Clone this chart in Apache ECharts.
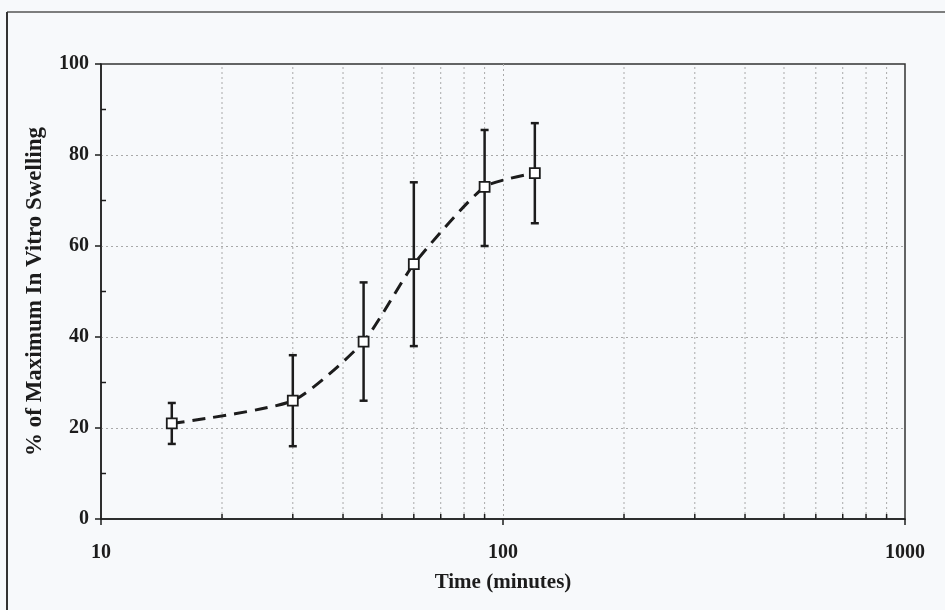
<!DOCTYPE html>
<html>
<head>
<meta charset="utf-8">
<script src="https://cdn.jsdelivr.net/npm/echarts@6/dist/echarts.min.js"></script>
<style>
  html, body { margin: 0; padding: 0; background: #f7f9fb; }
  #chart { width: 945px; height: 610px; }
</style>
</head>
<body>
<div id="chart"></div>
<script>
// Swelling time course: mean with error range at each sampling time
const timeMinutes = [15, 30, 45, 60, 90, 120];
const swellingMean = [21, 26, 39, 56, 73, 76];
const swellingLow = [16.5, 16, 26, 38, 60, 65];
const swellingHigh = [25.5, 36, 52, 74, 85.5, 87];

// Minor positions on each axis
const xMinorTicks = [20, 30, 40, 50, 60, 70, 80, 90, 200, 300, 400, 500, 600, 700, 800, 900];
const yMinorTicks = [10, 30, 50, 70, 90];

const FONT = "'Liberation Serif', 'DejaVu Serif', serif";
const INK = '#1c1c1c';
const GRIDC = '#a9a9a9';

const chart = echarts.init(document.getElementById('chart'), null, { renderer: 'canvas' });

const meanData = timeMinutes.map((t, i) => [t, swellingMean[i]]);
const errData = timeMinutes.map((t, i) => [t, swellingLow[i], swellingHigh[i]]);

chart.setOption({
  backgroundColor: '#f7f9fb',
  animation: false,
  graphic: [
    { type: 'line', shape: { x1: 7, y1: 12, x2: 945, y2: 12 }, style: { stroke: '#555', lineWidth: 1.5 } },
    { type: 'line', shape: { x1: 7, y1: 12, x2: 7, y2: 610 }, style: { stroke: '#333', lineWidth: 2 } }
  ],
  grid: {
    left: 101, right: 40, top: 64, bottom: 91,
    show: true, borderColor: '#333', borderWidth: 1.5, backgroundColor: 'transparent'
  },
  xAxis: {
    type: 'log', logBase: 10, min: 10, max: 1000,
    name: 'Time (minutes)', nameLocation: 'middle', nameGap: 53,
    nameTextStyle: { fontFamily: FONT, fontWeight: 'bold', fontSize: 21, color: INK },
    axisLine: { lineStyle: { color: INK, width: 1.5 } },
    axisTick: { length: 6, lineStyle: { color: INK, width: 1.5 } },
    axisLabel: {
      margin: 24, fontFamily: FONT, fontWeight: 'bold', fontSize: 20, color: INK,
      formatter: v => String(Math.round(v))
    },
    splitLine: { show: true, showMinLine: false, showMaxLine: false, lineStyle: { color: GRIDC, type: [2, 3], width: 1 } }
  },
  yAxis: {
    type: 'value', min: 0, max: 100, interval: 20,
    name: '% of Maximum In Vitro Swelling', nameLocation: 'middle', nameGap: 54,
    nameTextStyle: { fontFamily: FONT, fontWeight: 'bold', fontSize: 23, color: INK },
    axisLine: { show: true, lineStyle: { color: INK, width: 1.5 } },
    axisTick: { show: true, length: 6, lineStyle: { color: INK, width: 1.5 } },
    axisLabel: { margin: 12, fontFamily: FONT, fontWeight: 'bold', fontSize: 20, color: INK },
    splitLine: { show: true, showMinLine: false, showMaxLine: false, lineStyle: { color: GRIDC, type: [2, 3], width: 1 } }
  },
  series: [
    {
      // dotted minor grid lines with short inward ticks on the time axis
      type: 'custom', silent: true, z: 1,
      data: xMinorTicks.map(v => [v, 0]),
      renderItem: function (params, api) {
        const b = api.coord([api.value(0), 0]);
        const t = api.coord([api.value(0), 100]);
        return {
          type: 'group',
          children: [
            { type: 'line', shape: { x1: b[0], y1: b[1], x2: t[0], y2: t[1] },
              style: { stroke: GRIDC, lineWidth: 1, lineDash: [2, 3] } },
            { type: 'line', shape: { x1: b[0], y1: b[1], x2: b[0], y2: b[1] - 5 },
              style: { stroke: INK, lineWidth: 1.5 } }
          ]
        };
      }
    },
    {
      // minor inward ticks on the swelling axis
      type: 'custom', silent: true, z: 1,
      data: yMinorTicks.map(v => [10, v]),
      renderItem: function (params, api) {
        const p = api.coord([10, api.value(1)]);
        return { type: 'line', shape: { x1: p[0], y1: p[1], x2: p[0] + 5, y2: p[1] },
          style: { stroke: INK, lineWidth: 1.5 } };
      }
    },
    {
      // error bars with caps
      type: 'custom', silent: true, z: 3,
      data: errData,
      renderItem: function (params, api) {
        const lo = api.coord([api.value(0), api.value(1)]);
        const hi = api.coord([api.value(0), api.value(2)]);
        const w = 4;
        const st = { stroke: INK, lineWidth: 2.5 };
        return {
          type: 'group',
          children: [
            { type: 'line', shape: { x1: lo[0], y1: lo[1], x2: hi[0], y2: hi[1] }, style: st },
            { type: 'line', shape: { x1: lo[0] - w, y1: lo[1], x2: lo[0] + w, y2: lo[1] }, style: st },
            { type: 'line', shape: { x1: hi[0] - w, y1: hi[1], x2: hi[0] + w, y2: hi[1] }, style: st }
          ]
        };
      }
    },
    {
      type: 'line', z: 4,
      data: meanData,
      smooth: 0.2,
      lineStyle: { color: INK, width: 3, type: [13, 8] },
      symbol: 'rect', symbolSize: 10,
      itemStyle: { color: '#ffffff', borderColor: INK, borderWidth: 1.8 }
    }
  ]
});
</script>
</body>
</html>
